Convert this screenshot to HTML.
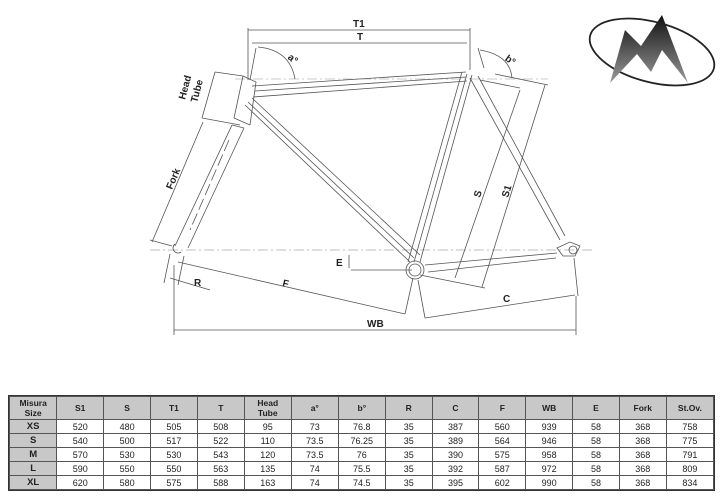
<!DOCTYPE html>
<html><head><meta charset="utf-8"><style>
body{margin:0;width:720px;height:500px;background:#fff;overflow:hidden;font-family:"Liberation Sans",Arial,sans-serif;position:relative}
svg{position:absolute;left:0;top:0}
table{position:absolute;left:8px;top:395px;width:707px;border-collapse:separate;border-spacing:1px;background:#555;border:1px solid #333}
td{background:#fff;text-align:center;font-size:9px;height:13px;padding:0;color:#222;width:47px}
tr.h td{background:#c8c8c8;font-weight:bold;height:22px;font-size:8.5px;line-height:10px}
td.s{background:#c8c8c8;font-weight:bold;font-size:9.5px}
</style></head><body>
<svg width="720" height="390" viewBox="0 0 720 390">
<defs><linearGradient id="g" x1="0" y1="0" x2="0" y2="1"><stop offset="0" stop-color="#111"/><stop offset="1" stop-color="#999"/></linearGradient></defs>
<g fill="none" stroke="#555" stroke-width="0.8">
<line x1="150" y1="250" x2="595" y2="250" stroke="#aaa" stroke-dasharray="10,3,2,3"/>
<line x1="235" y1="79" x2="548" y2="79" stroke="#bbb" stroke-dasharray="10,3,2,3"/>
<path d="M252 86 L466 72 M253 97 L467 81 M255 91 L466 77" />
<path d="M243 76 L256 82 L250 125 M243 76 L234 118 L250 125"/>
<path d="M245 105 L410 262 M252 98 L420 255 M248 102 L414 258"/>
<path d="M462 72 L408 262 M472 75 L420 262 M467 74 L414 262"/>
<path d="M470 78 L560 240 M478 76 L565 236"/>
<path d="M425 265 L557 253 M428 272 L556 258"/>
<path d="M557 248 L570 242 L580 246 L575 256 L563 256 Z"/>
<circle cx="573" cy="250" r="4"/>
<circle cx="415" cy="270" r="9"/><circle cx="415" cy="270" r="6"/>
<path d="M232 125 L175 246 M244 128 L188 248 M232 125 L244 128" />
<path d="M175 244 a5 5 0 1 0 6 8" />
<line x1="229" y1="140" x2="190" y2="230" stroke-dasharray="12,4"/>
<line x1="248" y1="30" x2="470" y2="30"/><line x1="252" y1="43" x2="467" y2="43"/>
<line x1="248" y1="28" x2="248" y2="80"/><line x1="470" y1="28" x2="470" y2="70"/>
<path d="M258 47 Q290 50 295 79"/><line x1="256" y1="48" x2="250" y2="80"/>
<path d="M480 50 Q510 55 512 78"/><line x1="478" y1="48" x2="484" y2="68"/>
<line x1="215" y1="72" x2="243" y2="76"/><line x1="202" y1="118" x2="240" y2="125"/>
<line x1="215" y1="72" x2="202" y2="118"/>
<line x1="203" y1="122" x2="152" y2="242"/><line x1="150" y1="240" x2="172" y2="246"/>
<line x1="520" y1="90" x2="455" y2="278"/><line x1="545" y1="85" x2="482" y2="287"/>
<line x1="480" y1="80" x2="520" y2="88"/><line x1="495" y1="74" x2="548" y2="85"/>
<line x1="420" y1="275" x2="485" y2="288"/>
<line x1="425" y1="318" x2="575" y2="295"/><line x1="418" y1="280" x2="425" y2="318"/><line x1="574" y1="258" x2="578" y2="296"/>
<line x1="178" y1="262" x2="405" y2="314"/><line x1="405" y1="314" x2="413" y2="278"/>
<line x1="170" y1="278" x2="210" y2="290"/><line x1="170" y1="254" x2="164" y2="283"/><line x1="184" y1="256" x2="178" y2="285"/>
<line x1="349" y1="255" x2="349" y2="268"/><line x1="351" y1="270" x2="412" y2="270"/>
<line x1="174" y1="330" x2="576" y2="330"/><line x1="174" y1="265" x2="174" y2="335"/><line x1="576" y1="296" x2="576" y2="335"/>
</g>
<g font-weight="bold" font-size="10" fill="#222">
<text x="353" y="27">T1</text><text x="357" y="40">T</text>
<text x="288" y="60" transform="rotate(40 290 58)">a°</text>
<text x="505" y="62" transform="rotate(35 508 60)">b°</text>
<text x="185" y="100" transform="rotate(-75 185 100)">Head</text>
<text x="197" y="103" transform="rotate(-75 197 103)">Tube</text>
<text x="172" y="190" transform="rotate(-67 172 190)">Fork</text>
<text x="480" y="198" transform="rotate(-73 480 198)">S</text>
<text x="508" y="198" transform="rotate(-73 508 198)">S1</text>
<text x="336" y="266">E</text><text x="194" y="286">R</text>
<text x="282" y="286" transform="rotate(13 282 286)">F</text>
<text x="503" y="302">C</text><text x="367" y="327">WB</text>
</g>
<ellipse cx="652" cy="52" rx="64" ry="30" fill="none" stroke="#222" stroke-width="1.8" transform="rotate(15 652 52)"/>
<path d="M610 83 L625 30 L641 46 L662 15 L688 83 L662 50 L651 72 L637 54 Z" fill="url(#g)"/>
</svg>
<table>
<tr class="h"><td>Misura<br>Size</td><td>S1</td><td>S</td><td>T1</td><td>T</td><td>Head<br>Tube</td><td>a°</td><td>b°</td><td>R</td><td>C</td><td>F</td><td>WB</td><td>E</td><td>Fork</td><td>St.Ov.</td></tr>
<tr><td class="s">XS</td><td>520</td><td>480</td><td>505</td><td>508</td><td>95</td><td>73</td><td>76.8</td><td>35</td><td>387</td><td>560</td><td>939</td><td>58</td><td>368</td><td>758</td></tr>
<tr><td class="s">S</td><td>540</td><td>500</td><td>517</td><td>522</td><td>110</td><td>73.5</td><td>76.25</td><td>35</td><td>389</td><td>564</td><td>946</td><td>58</td><td>368</td><td>775</td></tr>
<tr><td class="s">M</td><td>570</td><td>530</td><td>530</td><td>543</td><td>120</td><td>73.5</td><td>76</td><td>35</td><td>390</td><td>575</td><td>958</td><td>58</td><td>368</td><td>791</td></tr>
<tr><td class="s">L</td><td>590</td><td>550</td><td>550</td><td>563</td><td>135</td><td>74</td><td>75.5</td><td>35</td><td>392</td><td>587</td><td>972</td><td>58</td><td>368</td><td>809</td></tr>
<tr><td class="s">XL</td><td>620</td><td>580</td><td>575</td><td>588</td><td>163</td><td>74</td><td>74.5</td><td>35</td><td>395</td><td>602</td><td>990</td><td>58</td><td>368</td><td>834</td></tr>
</table>
</body></html>
